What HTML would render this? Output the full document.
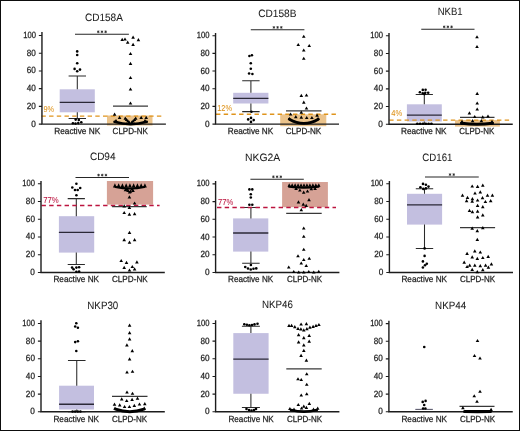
<!DOCTYPE html>
<html><head><meta charset="utf-8"><style>
html,body{margin:0;padding:0;background:#fff;}
svg{display:block;will-change:transform;}
text{stroke:#1e1e1e;stroke-width:0.25px;text-rendering:geometricPrecision;}
text.c{stroke:none;}
</style></head><body>
<svg width="520" height="431" viewBox="0 0 520 431" font-family='"Liberation Sans", sans-serif'>
<rect x="0" y="0" width="520" height="431" fill="#fff"/>
<rect x="107" y="115.5" width="45.5" height="10.0" fill="#ebc38b"/>
<rect x="59.7" y="89.3" width="35.099999999999994" height="23.0" fill="#c3bfe0"/>
<path d="M77.3 75.9V89.3M77.3 112.3V118.4M68.6 75.9H86.0M68.6 118.4H86.0" stroke="#2a2a2a" stroke-width="1.05" fill="none"/>
<path d="M59.7 102.3H94.8" stroke="#2b2937" stroke-width="1.35"/>
<path d="M41.4 116.1H161.8" stroke="#df941c" stroke-width="1.4" stroke-dasharray="4.4 3.3" fill="none"/>
<text x="43.48" y="111.60" font-size="8.6" textLength="10.67" lengthAdjust="spacingAndGlyphs" fill="#df941c" style="stroke:#df941c;stroke-width:0.05px">9%</text>
<path d="M113 106.0H148" stroke="#383838" stroke-width="1.25"/>
<path d="M41.95 32.0V124.15H165.9" stroke="#1c1c1c" stroke-width="1.4" fill="none"/>
<text x="31.30" y="126.65" font-size="9" fill="#1e1e1e" textLength="4.6" lengthAdjust="spacingAndGlyphs">0</text>
<text x="26.80" y="108.91" font-size="9" fill="#1e1e1e" textLength="9.1" lengthAdjust="spacingAndGlyphs">20</text>
<text x="26.80" y="91.17" font-size="9" fill="#1e1e1e" textLength="9.1" lengthAdjust="spacingAndGlyphs">40</text>
<text x="26.80" y="73.43" font-size="9" fill="#1e1e1e" textLength="9.1" lengthAdjust="spacingAndGlyphs">60</text>
<text x="26.80" y="55.69" font-size="9" fill="#1e1e1e" textLength="9.1" lengthAdjust="spacingAndGlyphs">80</text>
<text x="23.20" y="37.95" font-size="9" fill="#1e1e1e" textLength="12.7" lengthAdjust="spacingAndGlyphs">100</text>
<path d="M38.85 124.15H41.95M38.85 106.41H41.95M38.85 88.67H41.95M38.85 70.93H41.95M38.85 53.19H41.95M38.85 35.45H41.95" stroke="#1c1c1c" stroke-width="1.1"/>
<path d="M75 34.2H128.9" stroke="#262626" stroke-width="1.1"/>
<path d="M98.25 30.45V33.15M97.08 31.13L99.42 32.48M97.08 32.48L99.42 31.13M101.95 30.45V33.15M100.78 31.13L103.12 32.48M100.78 32.48L103.12 31.13M105.65 30.45V33.15M104.48 31.13L106.82 32.48M104.48 32.48L106.82 31.13" stroke="#222" stroke-width="0.75" fill="none"/>
<text x="84.93" y="20.90" font-size="10.6" textLength="37.92" lengthAdjust="spacingAndGlyphs" fill="#1a1a1a" style="stroke-width:0.05px">CD158A</text>
<text x="54.21" y="133.90" font-size="8.8" textLength="45.99" lengthAdjust="spacingAndGlyphs" fill="#1e1e1e">Reactive NK</text>
<text x="112.56" y="133.90" font-size="8.8" textLength="35.43" lengthAdjust="spacingAndGlyphs" fill="#1e1e1e">CLPD-NK</text>
<path d="M114.5 121.8Q130.5 126.6 146.8 121.8" stroke="#000" stroke-width="2.6" stroke-linecap="round" fill="none"/>
<g fill="#000"><circle cx="77.20" cy="51.40" r="1.3"/><circle cx="77.20" cy="55.00" r="1.3"/><circle cx="77.20" cy="63.20" r="1.3"/><circle cx="74.60" cy="68.90" r="1.3"/><circle cx="77.20" cy="71.30" r="1.3"/><circle cx="80.00" cy="69.60" r="1.3"/><circle cx="75.70" cy="119.60" r="1.3"/><circle cx="78.80" cy="119.90" r="1.3"/><circle cx="72.90" cy="123.20" r="1.3"/><circle cx="75.50" cy="123.60" r="1.3"/><circle cx="78.30" cy="123.10" r="1.3"/><circle cx="81.30" cy="122.20" r="1.3"/><path d="M120.40 40.90L122.20 37.70L124.00 40.90Z"/><path d="M123.20 40.60L125.00 37.40L126.80 40.60Z"/><path d="M125.90 43.70L127.70 40.50L129.50 43.70Z"/><path d="M131.30 38.70L133.10 35.50L134.90 38.70Z"/><path d="M136.60 41.30L138.40 38.10L140.20 41.30Z"/><path d="M131.30 46.00L133.10 42.80L134.90 46.00Z"/><path d="M128.70 55.10L130.50 51.90L132.30 55.10Z"/><path d="M128.70 65.00L130.50 61.80L132.30 65.00Z"/><path d="M128.70 79.10L130.50 75.90L132.30 79.10Z"/><path d="M128.70 90.60L130.50 87.40L132.30 90.60Z"/><path d="M128.70 104.60L130.50 101.40L132.30 104.60Z"/><path d="M112.80 115.80L114.60 112.60L116.40 115.80Z"/><path d="M117.80 119.00L119.60 115.80L121.40 119.00Z"/><path d="M139.40 119.00L141.20 115.80L143.00 119.00Z"/><path d="M144.40 119.00L146.20 115.80L148.00 119.00Z"/><path d="M123.50 119.80L125.30 116.60L127.10 119.80Z"/><path d="M124.80 121.10L126.60 117.90L128.40 121.10Z"/><path d="M126.10 122.40L127.90 119.20L129.70 122.40Z"/><path d="M127.40 123.60L129.20 120.40L131.00 123.60Z"/><path d="M130.00 123.60L131.80 120.40L133.60 123.60Z"/><path d="M131.30 122.40L133.10 119.20L134.90 122.40Z"/><path d="M132.60 121.10L134.40 117.90L136.20 121.10Z"/><path d="M133.90 119.80L135.70 116.60L137.50 119.80Z"/><path d="M114.20 122.10L116.00 118.90L117.80 122.10Z"/><path d="M143.20 122.10L145.00 118.90L146.80 122.10Z"/></g>
<rect x="280.2" y="114.3" width="46.10000000000002" height="11.900000000000006" fill="#ebc38b"/>
<rect x="233.2" y="92.8" width="35.19999999999999" height="10.700000000000003" fill="#c3bfe0"/>
<path d="M250.9 80.7V92.8M250.9 103.5V111.6M242.20000000000002 80.7H259.6M242.20000000000002 111.6H259.6" stroke="#2a2a2a" stroke-width="1.05" fill="none"/>
<path d="M233.2 98.3H268.4" stroke="#2b2937" stroke-width="1.35"/>
<path d="M216.0 114.3H336.3" stroke="#df941c" stroke-width="1.4" stroke-dasharray="4.4 3.3" fill="none"/>
<text x="217.26" y="110.90" font-size="8.6" textLength="14.81" lengthAdjust="spacingAndGlyphs" fill="#df941c" style="stroke:#df941c;stroke-width:0.05px">12%</text>
<path d="M286 110.9H321.5" stroke="#383838" stroke-width="1.25"/>
<path d="M215.55 33.0V124.1H339.0" stroke="#1c1c1c" stroke-width="1.4" fill="none"/>
<text x="204.90" y="126.60" font-size="9" fill="#1e1e1e" textLength="4.6" lengthAdjust="spacingAndGlyphs">0</text>
<text x="200.40" y="108.92" font-size="9" fill="#1e1e1e" textLength="9.1" lengthAdjust="spacingAndGlyphs">20</text>
<text x="200.40" y="91.24" font-size="9" fill="#1e1e1e" textLength="9.1" lengthAdjust="spacingAndGlyphs">40</text>
<text x="200.40" y="73.56" font-size="9" fill="#1e1e1e" textLength="9.1" lengthAdjust="spacingAndGlyphs">60</text>
<text x="200.40" y="55.88" font-size="9" fill="#1e1e1e" textLength="9.1" lengthAdjust="spacingAndGlyphs">80</text>
<text x="196.80" y="38.20" font-size="9" fill="#1e1e1e" textLength="12.7" lengthAdjust="spacingAndGlyphs">100</text>
<path d="M212.45000000000002 124.10H215.55M212.45000000000002 106.42H215.55M212.45000000000002 88.74H215.55M212.45000000000002 71.06H215.55M212.45000000000002 53.38H215.55M212.45000000000002 35.70H215.55" stroke="#1c1c1c" stroke-width="1.1"/>
<path d="M250.8 29.8H304.4" stroke="#262626" stroke-width="1.1"/>
<path d="M273.90 26.05V28.75M272.73 26.73L275.07 28.08M272.73 28.08L275.07 26.73M277.60 26.05V28.75M276.43 26.73L278.77 28.08M276.43 28.08L278.77 26.73M281.30 26.05V28.75M280.13 26.73L282.47 28.08M280.13 28.08L282.47 26.73" stroke="#222" stroke-width="0.75" fill="none"/>
<text x="258.22" y="16.50" font-size="10.6" textLength="38.20" lengthAdjust="spacingAndGlyphs" fill="#1a1a1a" style="stroke-width:0.05px">CD158B</text>
<text x="227.72" y="133.90" font-size="8.8" textLength="45.48" lengthAdjust="spacingAndGlyphs" fill="#1e1e1e">Reactive NK</text>
<text x="285.65" y="133.90" font-size="8.8" textLength="35.63" lengthAdjust="spacingAndGlyphs" fill="#1e1e1e">CLPD-NK</text>
<path d="M289.3 119.3Q304 127.6 318.3 119.3" stroke="#000" stroke-width="2.8" stroke-linecap="round" fill="none"/>
<g fill="#000"><circle cx="249.40" cy="56.00" r="1.3"/><circle cx="251.90" cy="55.20" r="1.3"/><circle cx="250.80" cy="63.30" r="1.3"/><circle cx="250.80" cy="68.80" r="1.3"/><circle cx="249.10" cy="73.50" r="1.3"/><circle cx="252.40" cy="74.00" r="1.3"/><circle cx="251.40" cy="111.70" r="1.3"/><circle cx="248.20" cy="119.40" r="1.3"/><circle cx="251.00" cy="117.90" r="1.3"/><circle cx="253.70" cy="120.10" r="1.3"/><circle cx="251.00" cy="121.90" r="1.3"/><path d="M301.95 37.85L303.75 34.65L305.55 37.85Z"/><path d="M296.45 46.10L298.25 42.90L300.05 46.10Z"/><path d="M307.45 47.10L309.25 43.90L311.05 47.10Z"/><path d="M301.95 51.60L303.75 48.40L305.55 51.60Z"/><path d="M301.95 59.85L303.75 56.65L305.55 59.85Z"/><path d="M299.50 96.90L301.30 93.70L303.10 96.90Z"/><path d="M304.70 96.60L306.50 93.40L308.30 96.60Z"/><path d="M302.00 103.80L303.80 100.60L305.60 103.80Z"/><path d="M304.70 109.60L306.50 106.40L308.30 109.60Z"/><path d="M299.50 113.70L301.30 110.50L303.10 113.70Z"/><path d="M288.80 115.60L290.60 112.40L292.40 115.60Z"/><path d="M294.00 118.30L295.80 115.10L297.60 118.30Z"/><path d="M299.50 118.80L301.30 115.60L303.10 118.80Z"/><path d="M304.90 119.10L306.70 115.90L308.50 119.10Z"/><path d="M310.10 119.10L311.90 115.90L313.70 119.10Z"/><path d="M315.30 116.80L317.10 113.60L318.90 116.80Z"/><path d="M287.70 120.10L289.50 116.90L291.30 120.10Z"/><path d="M316.20 120.10L318.00 116.90L319.80 120.10Z"/></g>
<rect x="455" y="120.1" width="44.89999999999998" height="6.5" fill="#ebc38b"/>
<rect x="406.9" y="104.3" width="34.900000000000034" height="17.200000000000003" fill="#c3bfe0"/>
<path d="M424.3 94.5V104.3M424.3 121.5V123.9M415.7 94.5H432.90000000000003M415.7 123.9H432.90000000000003" stroke="#2a2a2a" stroke-width="1.05" fill="none"/>
<path d="M406.9 115.1H441.8" stroke="#2b2937" stroke-width="1.35"/>
<path d="M389.2 120.1H510" stroke="#df941c" stroke-width="1.4" stroke-dasharray="4.4 3.3" fill="none"/>
<text x="391.29" y="116.40" font-size="8.6" textLength="10.96" lengthAdjust="spacingAndGlyphs" fill="#df941c" style="stroke:#df941c;stroke-width:0.05px">4%</text>
<path d="M460 117.3H494.5" stroke="#383838" stroke-width="1.25"/>
<path d="M389.0 32.9V124.2H512.75" stroke="#1c1c1c" stroke-width="1.4" fill="none"/>
<text x="378.35" y="126.70" font-size="9" fill="#1e1e1e" textLength="4.6" lengthAdjust="spacingAndGlyphs">0</text>
<text x="373.85" y="109.02" font-size="9" fill="#1e1e1e" textLength="9.1" lengthAdjust="spacingAndGlyphs">20</text>
<text x="373.85" y="91.34" font-size="9" fill="#1e1e1e" textLength="9.1" lengthAdjust="spacingAndGlyphs">40</text>
<text x="373.85" y="73.66" font-size="9" fill="#1e1e1e" textLength="9.1" lengthAdjust="spacingAndGlyphs">60</text>
<text x="373.85" y="55.98" font-size="9" fill="#1e1e1e" textLength="9.1" lengthAdjust="spacingAndGlyphs">80</text>
<text x="370.25" y="38.30" font-size="9" fill="#1e1e1e" textLength="12.7" lengthAdjust="spacingAndGlyphs">100</text>
<path d="M385.9 124.20H389.0M385.9 106.52H389.0M385.9 88.84H389.0M385.9 71.16H389.0M385.9 53.48H389.0M385.9 35.80H389.0" stroke="#1c1c1c" stroke-width="1.1"/>
<path d="M421.25 29.25H474.5" stroke="#262626" stroke-width="1.1"/>
<path d="M444.18 25.50V28.20M443.00 26.18L445.35 27.53M443.00 27.53L445.35 26.18M447.88 25.50V28.20M446.70 26.18L449.05 27.53M446.70 27.53L449.05 26.18M451.57 25.50V28.20M450.40 26.18L452.75 27.53M450.40 27.53L452.75 26.18" stroke="#222" stroke-width="0.75" fill="none"/>
<text x="437.73" y="15.40" font-size="10.6" textLength="24.87" lengthAdjust="spacingAndGlyphs" fill="#1a1a1a" style="stroke-width:0.05px">NKB1</text>
<text x="401.02" y="133.90" font-size="8.8" textLength="45.58" lengthAdjust="spacingAndGlyphs" fill="#1e1e1e">Reactive NK</text>
<text x="459.36" y="133.90" font-size="8.8" textLength="34.93" lengthAdjust="spacingAndGlyphs" fill="#1e1e1e">CLPD-NK</text>
<path d="M461.5 123.3Q477 125.4 492.5 123.3" stroke="#000" stroke-width="3.0" stroke-linecap="round" fill="none"/>
<g fill="#000"><circle cx="422.80" cy="89.90" r="1.3"/><circle cx="425.60" cy="89.80" r="1.3"/><circle cx="419.90" cy="92.20" r="1.3"/><circle cx="422.80" cy="93.20" r="1.3"/><circle cx="425.30" cy="92.70" r="1.3"/><circle cx="428.20" cy="92.70" r="1.3"/><circle cx="424.40" cy="94.10" r="1.3"/><circle cx="417.30" cy="123.70" r="1.3"/><circle cx="420.12" cy="123.70" r="1.3"/><circle cx="422.94" cy="123.70" r="1.3"/><circle cx="425.76" cy="123.70" r="1.3"/><circle cx="428.58" cy="123.70" r="1.3"/><circle cx="431.40" cy="123.70" r="1.3"/><path d="M475.20 38.35L477.00 35.15L478.80 38.35Z"/><path d="M475.20 48.10L477.00 44.90L478.80 48.10Z"/><path d="M475.40 94.90L477.20 91.70L479.00 94.90Z"/><path d="M475.40 104.60L477.20 101.40L479.00 104.60Z"/><path d="M475.40 110.60L477.20 107.40L479.00 110.60Z"/><path d="M467.60 114.40L469.40 111.20L471.20 114.40Z"/><path d="M472.90 118.10L474.70 114.90L476.50 118.10Z"/><path d="M480.90 118.40L482.70 115.20L484.50 118.40Z"/><path d="M486.20 117.60L488.00 114.40L489.80 117.60Z"/><path d="M470.80 122.20L472.60 119.00L474.40 122.20Z"/><path d="M479.60 122.20L481.40 119.00L483.20 122.20Z"/><path d="M460.20 122.90L462.00 119.70L463.80 122.90Z"/><path d="M490.20 122.90L492.00 119.70L493.80 122.90Z"/></g>
<rect x="106.9" y="181" width="46.19999999999999" height="23.599999999999994" fill="#d6a296"/>
<rect x="58.9" y="216.2" width="35.300000000000004" height="36.400000000000006" fill="#c3bfe0"/>
<path d="M76.3 198.6V216.2M76.3 252.6V264.5M67.7 198.6H84.89999999999999M67.7 264.5H84.89999999999999" stroke="#2a2a2a" stroke-width="1.05" fill="none"/>
<path d="M58.9 232.3H94.2" stroke="#2b2937" stroke-width="1.35"/>
<path d="M41.5 205.45H159.6" stroke="#bc143f" stroke-width="1.4" stroke-dasharray="4.4 3.3" fill="none"/>
<text x="43.16" y="202.50" font-size="8.6" textLength="15.52" lengthAdjust="spacingAndGlyphs" fill="#bc143f" style="stroke:#bc143f;stroke-width:0.05px">77%</text>
<path d="M112.1 206.5H146.7" stroke="#383838" stroke-width="1.25"/>
<path d="M41.0 180.9V272.45H164.8" stroke="#1c1c1c" stroke-width="1.4" fill="none"/>
<text x="30.35" y="274.95" font-size="9" fill="#1e1e1e" textLength="4.6" lengthAdjust="spacingAndGlyphs">0</text>
<text x="25.85" y="257.22" font-size="9" fill="#1e1e1e" textLength="9.1" lengthAdjust="spacingAndGlyphs">20</text>
<text x="25.85" y="239.49" font-size="9" fill="#1e1e1e" textLength="9.1" lengthAdjust="spacingAndGlyphs">40</text>
<text x="25.85" y="221.76" font-size="9" fill="#1e1e1e" textLength="9.1" lengthAdjust="spacingAndGlyphs">60</text>
<text x="25.85" y="204.03" font-size="9" fill="#1e1e1e" textLength="9.1" lengthAdjust="spacingAndGlyphs">80</text>
<text x="22.25" y="186.30" font-size="9" fill="#1e1e1e" textLength="12.7" lengthAdjust="spacingAndGlyphs">100</text>
<path d="M37.9 272.45H41.0M37.9 254.72H41.0M37.9 236.99H41.0M37.9 219.26H41.0M37.9 201.53H41.0M37.9 183.80H41.0" stroke="#1c1c1c" stroke-width="1.1"/>
<path d="M75.5 177.5H129" stroke="#262626" stroke-width="1.1"/>
<path d="M98.55 173.75V176.45M97.38 174.42L99.72 175.78M97.38 175.78L99.72 174.42M102.25 173.75V176.45M101.08 174.42L103.42 175.78M101.08 175.78L103.42 174.42M105.95 173.75V176.45M104.78 174.42L107.12 175.78M104.78 175.78L107.12 174.42" stroke="#222" stroke-width="0.75" fill="none"/>
<text x="89.93" y="160.20" font-size="10.6" textLength="25.58" lengthAdjust="spacingAndGlyphs" fill="#1a1a1a" style="stroke-width:0.05px">CD94</text>
<text x="53.42" y="282.20" font-size="8.8" textLength="45.68" lengthAdjust="spacingAndGlyphs" fill="#1e1e1e">Reactive NK</text>
<text x="111.95" y="282.20" font-size="8.8" textLength="35.83" lengthAdjust="spacingAndGlyphs" fill="#1e1e1e">CLPD-NK</text>
<path d="M115.4 187.0Q129.8 190.0 144.4 187.0" stroke="#000" stroke-width="2.0" stroke-linecap="round" fill="none"/>
<g fill="#000"><circle cx="76.40" cy="183.80" r="1.3"/><circle cx="72.30" cy="187.50" r="1.3"/><circle cx="80.20" cy="188.00" r="1.3"/><circle cx="75.00" cy="190.00" r="1.3"/><circle cx="77.70" cy="190.00" r="1.3"/><circle cx="76.40" cy="195.30" r="1.3"/><circle cx="72.10" cy="267.60" r="1.3"/><circle cx="73.60" cy="269.20" r="1.3"/><circle cx="76.40" cy="267.60" r="1.3"/><circle cx="79.10" cy="267.30" r="1.3"/><circle cx="76.40" cy="271.80" r="1.3"/><circle cx="79.10" cy="271.60" r="1.3"/><path d="M112.95 187.40L114.90 183.20L116.85 187.40Z"/><path d="M116.70 187.40L118.65 183.20L120.60 187.40Z"/><path d="M120.45 187.40L122.40 183.20L124.35 187.40Z"/><path d="M124.20 187.40L126.15 183.20L128.10 187.40Z"/><path d="M127.95 187.40L129.90 183.20L131.85 187.40Z"/><path d="M131.70 187.40L133.65 183.20L135.60 187.40Z"/><path d="M135.45 187.40L137.40 183.20L139.35 187.40Z"/><path d="M139.20 187.40L141.15 183.20L143.10 187.40Z"/><path d="M142.95 187.40L144.90 183.20L146.85 187.40Z"/><path d="M123.70 191.20L125.50 188.00L127.30 191.20Z"/><path d="M126.20 192.00L128.00 188.80L129.80 192.00Z"/><path d="M128.70 192.80L130.50 189.60L132.30 192.80Z"/><path d="M131.20 192.00L133.00 188.80L134.80 192.00Z"/><path d="M125.20 190.60L127.00 187.40L128.80 190.60Z"/><path d="M130.20 190.60L132.00 187.40L133.80 190.60Z"/><path d="M127.80 193.60L129.60 190.40L131.40 193.60Z"/><path d="M127.60 198.50L129.40 195.30L131.20 198.50Z"/><path d="M132.80 204.60L134.60 201.40L136.40 204.60Z"/><path d="M122.40 207.50L124.20 204.30L126.00 207.50Z"/><path d="M127.60 208.90L129.40 205.70L131.20 208.90Z"/><path d="M122.40 214.10L124.20 210.90L126.00 214.10Z"/><path d="M127.60 215.80L129.40 212.60L131.20 215.80Z"/><path d="M132.80 215.30L134.60 212.10L136.40 215.30Z"/><path d="M127.70 233.90L129.50 230.70L131.30 233.90Z"/><path d="M122.40 241.30L124.20 238.10L126.00 241.30Z"/><path d="M127.70 243.80L129.50 240.60L131.30 243.80Z"/><path d="M132.80 241.30L134.60 238.10L136.40 241.30Z"/><path d="M119.40 262.10L121.20 258.90L123.00 262.10Z"/><path d="M124.70 263.90L126.50 260.70L128.30 263.90Z"/><path d="M135.10 263.40L136.90 260.20L138.70 263.40Z"/><path d="M122.40 269.00L124.20 265.80L126.00 269.00Z"/><path d="M130.50 268.10L132.30 264.90L134.10 268.10Z"/><path d="M132.80 270.40L134.60 267.20L136.40 270.40Z"/><path d="M127.70 271.60L129.50 268.40L131.30 271.60Z"/></g>
<rect x="282.1" y="182" width="45.799999999999955" height="25.19999999999999" fill="#d6a296"/>
<rect x="233.1" y="218.4" width="35.20000000000002" height="33.19999999999999" fill="#c3bfe0"/>
<path d="M250.9 207.4V218.4M250.9 251.6V263.3M242.15 207.4H259.65M242.15 263.3H259.65" stroke="#2a2a2a" stroke-width="1.05" fill="none"/>
<path d="M233.1 233.0H268.3" stroke="#2b2937" stroke-width="1.35"/>
<path d="M217.0 207.5H336" stroke="#bc143f" stroke-width="1.4" stroke-dasharray="4.4 3.3" fill="none"/>
<text x="217.97" y="204.60" font-size="8.6" textLength="15.31" lengthAdjust="spacingAndGlyphs" fill="#bc143f" style="stroke:#bc143f;stroke-width:0.05px">77%</text>
<path d="M286.2 213.4H321.7" stroke="#383838" stroke-width="1.25"/>
<path d="M215.6 181.1V272.45H339.4" stroke="#1c1c1c" stroke-width="1.4" fill="none"/>
<text x="204.95" y="274.95" font-size="9" fill="#1e1e1e" textLength="4.6" lengthAdjust="spacingAndGlyphs">0</text>
<text x="200.45" y="257.24" font-size="9" fill="#1e1e1e" textLength="9.1" lengthAdjust="spacingAndGlyphs">20</text>
<text x="200.45" y="239.53" font-size="9" fill="#1e1e1e" textLength="9.1" lengthAdjust="spacingAndGlyphs">40</text>
<text x="200.45" y="221.82" font-size="9" fill="#1e1e1e" textLength="9.1" lengthAdjust="spacingAndGlyphs">60</text>
<text x="200.45" y="204.11" font-size="9" fill="#1e1e1e" textLength="9.1" lengthAdjust="spacingAndGlyphs">80</text>
<text x="196.85" y="186.40" font-size="9" fill="#1e1e1e" textLength="12.7" lengthAdjust="spacingAndGlyphs">100</text>
<path d="M212.5 272.45H215.6M212.5 254.74H215.6M212.5 237.03H215.6M212.5 219.32H215.6M212.5 201.61H215.6M212.5 183.90H215.6" stroke="#1c1c1c" stroke-width="1.1"/>
<path d="M250.4 179.2H303.8" stroke="#262626" stroke-width="1.1"/>
<path d="M273.40 175.45V178.15M272.23 176.12L274.57 177.47M272.23 177.47L274.57 176.12M277.10 175.45V178.15M275.93 176.12L278.27 177.47M275.93 177.47L278.27 176.12M280.80 175.45V178.15M279.63 176.12L281.97 177.47M279.63 177.47L281.97 176.12" stroke="#222" stroke-width="0.75" fill="none"/>
<text x="245.07" y="161.30" font-size="10.6" textLength="35.18" lengthAdjust="spacingAndGlyphs" fill="#1a1a1a" style="stroke-width:0.05px">NKG2A</text>
<text x="228.02" y="282.20" font-size="8.8" textLength="45.18" lengthAdjust="spacingAndGlyphs" fill="#1e1e1e">Reactive NK</text>
<text x="286.96" y="282.20" font-size="8.8" textLength="35.23" lengthAdjust="spacingAndGlyphs" fill="#1e1e1e">CLPD-NK</text>
<path d="M289.0 186.6Q303.8 188.6 318.6 186.6" stroke="#000" stroke-width="2.2" stroke-linecap="round" fill="none"/>
<g fill="#000"><circle cx="249.40" cy="189.40" r="1.3"/><circle cx="252.30" cy="189.40" r="1.3"/><circle cx="250.80" cy="194.20" r="1.3"/><circle cx="250.80" cy="197.50" r="1.3"/><circle cx="249.40" cy="204.80" r="1.3"/><circle cx="252.30" cy="204.80" r="1.3"/><circle cx="250.90" cy="265.00" r="1.3"/><circle cx="245.25" cy="267.00" r="1.3"/><circle cx="248.00" cy="268.50" r="1.3"/><circle cx="250.75" cy="269.50" r="1.3"/><circle cx="253.50" cy="268.75" r="1.3"/><circle cx="256.25" cy="268.40" r="1.3"/><path d="M287.50 186.70L289.20 183.30L290.90 186.70Z"/><path d="M290.46 186.70L292.16 183.30L293.86 186.70Z"/><path d="M293.42 186.70L295.12 183.30L296.82 186.70Z"/><path d="M296.38 186.70L298.08 183.30L299.78 186.70Z"/><path d="M299.34 186.70L301.04 183.30L302.74 186.70Z"/><path d="M302.30 186.70L304.00 183.30L305.70 186.70Z"/><path d="M305.26 186.70L306.96 183.30L308.66 186.70Z"/><path d="M308.22 186.70L309.92 183.30L311.62 186.70Z"/><path d="M311.18 186.70L312.88 183.30L314.58 186.70Z"/><path d="M314.14 186.70L315.84 183.30L317.54 186.70Z"/><path d="M317.10 186.70L318.80 183.30L320.50 186.70Z"/><path d="M294.30 189.90L296.10 186.70L297.90 189.90Z"/><path d="M298.10 191.60L299.90 188.40L301.70 191.60Z"/><path d="M301.90 193.70L303.70 190.50L305.50 193.70Z"/><path d="M305.70 192.60L307.50 189.40L309.30 192.60Z"/><path d="M309.50 190.30L311.30 187.10L313.10 190.30Z"/><path d="M313.30 189.90L315.10 186.70L316.90 189.90Z"/><path d="M296.70 203.50L298.50 200.30L300.30 203.50Z"/><path d="M307.20 201.20L309.00 198.00L310.80 201.20Z"/><path d="M301.50 205.80L303.30 202.60L305.10 205.80Z"/><path d="M304.40 207.00L306.20 203.80L308.00 207.00Z"/><path d="M299.50 211.20L301.30 208.00L303.10 211.20Z"/><path d="M301.95 229.60L303.75 226.40L305.55 229.60Z"/><path d="M301.95 237.85L303.75 234.65L305.55 237.85Z"/><path d="M301.95 250.85L303.75 247.65L305.55 250.85Z"/><path d="M296.20 257.35L298.00 254.15L299.80 257.35Z"/><path d="M307.45 259.85L309.25 256.65L311.05 259.85Z"/><path d="M301.95 261.10L303.75 257.90L305.55 261.10Z"/><path d="M299.45 264.60L301.25 261.40L303.05 264.60Z"/><path d="M304.45 267.10L306.25 263.90L308.05 267.10Z"/><path d="M286.95 268.60L288.75 265.40L290.55 268.60Z"/><path d="M291.95 273.10L293.75 269.90L295.55 273.10Z"/><path d="M296.95 273.60L298.75 270.40L300.55 273.60Z"/><path d="M301.95 273.60L303.75 270.40L305.55 273.60Z"/><path d="M306.95 273.10L308.75 269.90L310.55 273.10Z"/><path d="M311.95 273.60L313.75 270.40L315.55 273.60Z"/><path d="M316.95 272.90L318.75 269.70L320.55 272.90Z"/></g>
<rect x="407" y="193.8" width="35.10000000000002" height="30.799999999999983" fill="#c3bfe0"/>
<path d="M424.5 188.75V193.8M424.5 224.6V248.4M415.8 188.75H433.2M415.8 248.4H433.2" stroke="#2a2a2a" stroke-width="1.05" fill="none"/>
<path d="M407 204.8H442.1" stroke="#2b2937" stroke-width="1.35"/>
<path d="M460 227.5H495.1" stroke="#383838" stroke-width="1.25"/>
<path d="M389.4 181.0V272.45H513.0" stroke="#1c1c1c" stroke-width="1.4" fill="none"/>
<text x="378.75" y="274.95" font-size="9" fill="#1e1e1e" textLength="4.6" lengthAdjust="spacingAndGlyphs">0</text>
<text x="374.25" y="257.20" font-size="9" fill="#1e1e1e" textLength="9.1" lengthAdjust="spacingAndGlyphs">20</text>
<text x="374.25" y="239.45" font-size="9" fill="#1e1e1e" textLength="9.1" lengthAdjust="spacingAndGlyphs">40</text>
<text x="374.25" y="221.70" font-size="9" fill="#1e1e1e" textLength="9.1" lengthAdjust="spacingAndGlyphs">60</text>
<text x="374.25" y="203.95" font-size="9" fill="#1e1e1e" textLength="9.1" lengthAdjust="spacingAndGlyphs">80</text>
<text x="370.65" y="186.20" font-size="9" fill="#1e1e1e" textLength="12.7" lengthAdjust="spacingAndGlyphs">100</text>
<path d="M386.29999999999995 272.45H389.4M386.29999999999995 254.70H389.4M386.29999999999995 236.95H389.4M386.29999999999995 219.20H389.4M386.29999999999995 201.45H389.4M386.29999999999995 183.70H389.4" stroke="#1c1c1c" stroke-width="1.1"/>
<path d="M425 177H478.75" stroke="#262626" stroke-width="1.1"/>
<path d="M450.02 173.25V175.95M448.85 173.92L451.20 175.28M448.85 175.28L451.20 173.92M453.73 173.25V175.95M452.55 173.92L454.90 175.28M452.55 175.28L454.90 173.92" stroke="#222" stroke-width="0.75" fill="none"/>
<text x="422.34" y="161.20" font-size="10.6" textLength="30.10" lengthAdjust="spacingAndGlyphs" fill="#1a1a1a" style="stroke-width:0.05px">CD161</text>
<text x="401.42" y="282.20" font-size="8.8" textLength="45.68" lengthAdjust="spacingAndGlyphs" fill="#1e1e1e">Reactive NK</text>
<text x="459.96" y="282.20" font-size="8.8" textLength="35.23" lengthAdjust="spacingAndGlyphs" fill="#1e1e1e">CLPD-NK</text>
<g fill="#000"><circle cx="423.00" cy="183.90" r="1.3"/><circle cx="425.90" cy="184.70" r="1.3"/><circle cx="420.40" cy="187.20" r="1.3"/><circle cx="428.50" cy="186.60" r="1.3"/><circle cx="423.30" cy="188.90" r="1.3"/><circle cx="425.90" cy="188.40" r="1.3"/><circle cx="424.60" cy="248.40" r="1.3"/><circle cx="424.60" cy="255.90" r="1.3"/><circle cx="422.90" cy="261.40" r="1.3"/><circle cx="426.80" cy="263.80" r="1.3"/><circle cx="425.00" cy="265.30" r="1.3"/><circle cx="422.90" cy="267.50" r="1.3"/><path d="M470.40 187.60L472.20 184.40L474.00 187.60Z"/><path d="M475.80 188.00L477.60 184.80L479.40 188.00Z"/><path d="M481.00 186.80L482.80 183.60L484.60 186.80Z"/><path d="M473.20 194.60L475.00 191.40L476.80 194.60Z"/><path d="M478.50 193.40L480.30 190.20L482.10 193.40Z"/><path d="M460.70 196.70L462.50 193.50L464.30 196.70Z"/><path d="M465.70 199.00L467.50 195.80L469.30 199.00Z"/><path d="M470.60 200.20L472.40 197.00L474.20 200.20Z"/><path d="M475.80 201.60L477.60 198.40L479.40 201.60Z"/><path d="M480.70 199.20L482.50 196.00L484.30 199.20Z"/><path d="M485.70 196.70L487.50 193.50L489.30 196.70Z"/><path d="M490.60 196.70L492.40 193.50L494.20 196.70Z"/><path d="M464.80 202.20L466.60 199.00L468.40 202.20Z"/><path d="M470.40 202.70L472.20 199.50L474.00 202.70Z"/><path d="M483.60 203.10L485.40 199.90L487.20 203.10Z"/><path d="M488.90 202.20L490.70 199.00L492.50 202.20Z"/><path d="M475.80 206.90L477.60 203.70L479.40 206.90Z"/><path d="M481.00 208.30L482.80 205.10L484.60 208.30Z"/><path d="M467.70 212.00L469.50 208.80L471.30 212.00Z"/><path d="M470.60 213.20L472.40 210.00L474.20 213.20Z"/><path d="M475.80 212.70L477.60 209.50L479.40 212.70Z"/><path d="M475.80 218.50L477.60 215.30L479.40 218.50Z"/><path d="M481.00 216.40L482.80 213.20L484.60 216.40Z"/><path d="M470.40 229.80L472.20 226.60L474.00 229.80Z"/><path d="M481.00 229.20L482.80 226.00L484.60 229.20Z"/><path d="M475.50 232.30L477.30 229.10L479.10 232.30Z"/><path d="M475.50 240.90L477.30 237.70L479.10 240.90Z"/><path d="M465.30 254.90L467.10 251.70L468.90 254.90Z"/><path d="M473.00 252.50L474.80 249.30L476.60 252.50Z"/><path d="M478.50 253.60L480.30 250.40L482.10 253.60Z"/><path d="M470.40 258.50L472.20 255.30L474.00 258.50Z"/><path d="M475.50 260.00L477.30 256.80L479.10 260.00Z"/><path d="M481.00 259.10L482.80 255.90L484.60 259.10Z"/><path d="M486.40 257.90L488.20 254.70L490.00 257.90Z"/><path d="M462.40 263.80L464.20 260.60L466.00 263.80Z"/><path d="M465.30 268.10L467.10 264.90L468.90 268.10Z"/><path d="M467.90 266.80L469.70 263.60L471.50 266.80Z"/><path d="M473.00 266.80L474.80 263.60L476.60 266.80Z"/><path d="M478.50 267.20L480.30 264.00L482.10 267.20Z"/><path d="M483.80 266.80L485.60 263.60L487.40 266.80Z"/><path d="M486.60 268.70L488.40 265.50L490.20 268.70Z"/><path d="M489.60 265.50L491.40 262.30L493.20 265.50Z"/><path d="M470.40 271.00L472.20 267.80L474.00 271.00Z"/><path d="M475.50 273.20L477.30 270.00L479.10 273.20Z"/><path d="M481.00 271.20L482.80 268.00L484.60 271.20Z"/></g>
<rect x="59.1" y="385.7" width="34.9" height="23.80000000000001" fill="#c3bfe0"/>
<path d="M76.75 360.5V385.7M76.75 409.5V411.8M67.95 360.5H85.55M67.95 411.8H85.55" stroke="#2a2a2a" stroke-width="1.05" fill="none"/>
<path d="M59.1 404.2H94.0" stroke="#2b2937" stroke-width="1.35"/>
<path d="M112 396.25H147.5" stroke="#383838" stroke-width="1.25"/>
<path d="M41.0 320.2V411.8H164.8" stroke="#1c1c1c" stroke-width="1.4" fill="none"/>
<text x="30.35" y="414.30" font-size="9" fill="#1e1e1e" textLength="4.6" lengthAdjust="spacingAndGlyphs">0</text>
<text x="25.85" y="396.63" font-size="9" fill="#1e1e1e" textLength="9.1" lengthAdjust="spacingAndGlyphs">20</text>
<text x="25.85" y="378.96" font-size="9" fill="#1e1e1e" textLength="9.1" lengthAdjust="spacingAndGlyphs">40</text>
<text x="25.85" y="361.29" font-size="9" fill="#1e1e1e" textLength="9.1" lengthAdjust="spacingAndGlyphs">60</text>
<text x="25.85" y="343.62" font-size="9" fill="#1e1e1e" textLength="9.1" lengthAdjust="spacingAndGlyphs">80</text>
<text x="22.25" y="325.95" font-size="9" fill="#1e1e1e" textLength="12.7" lengthAdjust="spacingAndGlyphs">100</text>
<path d="M37.9 411.80H41.0M37.9 394.13H41.0M37.9 376.46H41.0M37.9 358.79H41.0M37.9 341.12H41.0M37.9 323.45H41.0" stroke="#1c1c1c" stroke-width="1.1"/>
<text x="87.31" y="308.60" font-size="10.6" textLength="31.00" lengthAdjust="spacingAndGlyphs" fill="#1a1a1a" style="stroke-width:0.05px">NKP30</text>
<text x="53.42" y="421.80" font-size="8.8" textLength="45.68" lengthAdjust="spacingAndGlyphs" fill="#1e1e1e">Reactive NK</text>
<text x="111.96" y="421.80" font-size="8.8" textLength="35.23" lengthAdjust="spacingAndGlyphs" fill="#1e1e1e">CLPD-NK</text>
<path d="M115.6 409.2Q129.8 414.2 144.0 409.2" stroke="#000" stroke-width="2.9" stroke-linecap="round" fill="none"/>
<g fill="#000"><circle cx="76.30" cy="323.30" r="1.3"/><circle cx="75.20" cy="326.50" r="1.3"/><circle cx="77.90" cy="327.80" r="1.3"/><circle cx="75.20" cy="342.10" r="1.3"/><circle cx="77.90" cy="341.30" r="1.3"/><circle cx="76.30" cy="351.00" r="1.3"/><circle cx="72.60" cy="411.50" r="1.3"/><circle cx="75.20" cy="411.50" r="1.3"/><circle cx="77.80" cy="411.50" r="1.3"/><circle cx="80.40" cy="411.50" r="1.3"/><path d="M127.80 326.80L129.60 323.60L131.40 326.80Z"/><path d="M127.80 334.30L129.60 331.10L131.40 334.30Z"/><path d="M127.80 340.50L129.60 337.30L131.40 340.50Z"/><path d="M125.10 346.40L126.90 343.20L128.70 346.40Z"/><path d="M130.50 352.30L132.30 349.10L134.10 352.30Z"/><path d="M127.80 360.40L129.60 357.20L131.40 360.40Z"/><path d="M125.20 373.60L127.00 370.40L128.80 373.60Z"/><path d="M130.70 372.85L132.50 369.65L134.30 372.85Z"/><path d="M125.20 393.60L127.00 390.40L128.80 393.60Z"/><path d="M130.70 394.85L132.50 391.65L134.30 394.85Z"/><path d="M119.90 400.50L121.70 397.30L123.50 400.50Z"/><path d="M124.90 402.10L126.70 398.90L128.50 402.10Z"/><path d="M130.30 400.90L132.10 397.70L133.90 400.90Z"/><path d="M135.70 399.70L137.50 396.50L139.30 399.70Z"/><path d="M112.70 405.70L114.50 402.50L116.30 405.70Z"/><path d="M117.90 406.50L119.70 403.30L121.50 406.50Z"/><path d="M122.80 408.10L124.60 404.90L126.40 408.10Z"/><path d="M127.60 408.10L129.40 404.90L131.20 408.10Z"/><path d="M132.50 406.90L134.30 403.70L136.10 406.90Z"/><path d="M137.70 405.60L139.50 402.40L141.30 405.60Z"/><path d="M143.00 405.30L144.80 402.10L146.60 405.30Z"/><path d="M113.20 409.80L115.00 406.60L116.80 409.80Z"/><path d="M142.50 409.80L144.30 406.60L146.10 409.80Z"/></g>
<rect x="233.3" y="333.1" width="35.30000000000001" height="60.64999999999998" fill="#c3bfe0"/>
<path d="M250.9 326.2V333.1M250.9 393.75V407.5M241.9 326.2H259.9M241.9 407.5H259.9" stroke="#2a2a2a" stroke-width="1.05" fill="none"/>
<path d="M233.3 359.1H268.6" stroke="#2b2937" stroke-width="1.35"/>
<path d="M286.3 368.8H321.7" stroke="#383838" stroke-width="1.25"/>
<path d="M215.6 320.2V411.8H339.4" stroke="#1c1c1c" stroke-width="1.4" fill="none"/>
<text x="204.95" y="414.30" font-size="9" fill="#1e1e1e" textLength="4.6" lengthAdjust="spacingAndGlyphs">0</text>
<text x="200.45" y="396.63" font-size="9" fill="#1e1e1e" textLength="9.1" lengthAdjust="spacingAndGlyphs">20</text>
<text x="200.45" y="378.96" font-size="9" fill="#1e1e1e" textLength="9.1" lengthAdjust="spacingAndGlyphs">40</text>
<text x="200.45" y="361.29" font-size="9" fill="#1e1e1e" textLength="9.1" lengthAdjust="spacingAndGlyphs">60</text>
<text x="200.45" y="343.62" font-size="9" fill="#1e1e1e" textLength="9.1" lengthAdjust="spacingAndGlyphs">80</text>
<text x="196.85" y="325.95" font-size="9" fill="#1e1e1e" textLength="12.7" lengthAdjust="spacingAndGlyphs">100</text>
<path d="M212.5 411.80H215.6M212.5 394.13H215.6M212.5 376.46H215.6M212.5 358.79H215.6M212.5 341.12H215.6M212.5 323.45H215.6" stroke="#1c1c1c" stroke-width="1.1"/>
<text x="261.91" y="308.30" font-size="10.6" textLength="30.91" lengthAdjust="spacingAndGlyphs" fill="#1a1a1a" style="stroke-width:0.05px">NKP46</text>
<text x="228.42" y="421.80" font-size="8.8" textLength="45.38" lengthAdjust="spacingAndGlyphs" fill="#1e1e1e">Reactive NK</text>
<text x="286.96" y="421.80" font-size="8.8" textLength="35.23" lengthAdjust="spacingAndGlyphs" fill="#1e1e1e">CLPD-NK</text>
<path d="M291.0 410.0Q303.8 413.2 316.8 410.0" stroke="#000" stroke-width="2.6" stroke-linecap="round" fill="none"/>
<g fill="#000"><circle cx="244.30" cy="324.20" r="1.3"/><circle cx="246.90" cy="324.70" r="1.3"/><circle cx="249.40" cy="325.20" r="1.3"/><circle cx="252.00" cy="325.00" r="1.3"/><circle cx="254.50" cy="324.40" r="1.3"/><circle cx="257.50" cy="323.70" r="1.3"/><circle cx="246.50" cy="409.00" r="1.3"/><circle cx="249.00" cy="410.00" r="1.3"/><circle cx="251.50" cy="410.50" r="1.3"/><circle cx="254.00" cy="410.00" r="1.3"/><circle cx="256.00" cy="409.00" r="1.3"/><path d="M287.20 327.00L289.00 323.80L290.80 327.00Z"/><path d="M289.80 327.00L291.60 323.80L293.40 327.00Z"/><path d="M293.00 328.20L294.80 325.00L296.60 328.20Z"/><path d="M296.20 329.90L298.00 326.70L299.80 329.90Z"/><path d="M299.10 330.50L300.90 327.30L302.70 330.50Z"/><path d="M302.00 331.40L303.80 328.20L305.60 331.40Z"/><path d="M305.10 330.30L306.90 327.10L308.70 330.30Z"/><path d="M308.10 328.80L309.90 325.60L311.70 328.80Z"/><path d="M311.30 328.00L313.10 324.80L314.90 328.00Z"/><path d="M314.20 327.00L316.00 323.80L317.80 327.00Z"/><path d="M317.10 326.10L318.90 322.90L320.70 326.10Z"/><path d="M299.30 325.60L301.10 322.40L302.90 325.60Z"/><path d="M304.60 325.30L306.40 322.10L308.20 325.30Z"/><path d="M296.80 336.30L298.60 333.10L300.40 336.30Z"/><path d="M307.40 336.90L309.20 333.70L311.00 336.90Z"/><path d="M302.00 339.20L303.80 336.00L305.60 339.20Z"/><path d="M296.80 343.50L298.60 340.30L300.40 343.50Z"/><path d="M307.40 342.70L309.20 339.50L311.00 342.70Z"/><path d="M302.00 346.50L303.80 343.30L305.60 346.50Z"/><path d="M302.00 352.00L303.80 348.80L305.60 352.00Z"/><path d="M299.30 357.00L301.10 353.80L302.90 357.00Z"/><path d="M304.60 361.80L306.40 358.60L308.20 361.80Z"/><path d="M304.95 375.35L306.75 372.15L308.55 375.35Z"/><path d="M296.20 380.35L298.00 377.15L299.80 380.35Z"/><path d="M299.45 381.10L301.25 377.90L303.05 381.10Z"/><path d="M304.95 385.85L306.75 382.65L308.55 385.85Z"/><path d="M299.45 396.60L301.25 393.40L303.05 396.60Z"/><path d="M304.95 395.35L306.75 392.15L308.55 395.35Z"/><path d="M296.50 406.10L298.30 402.90L300.10 406.10Z"/><path d="M307.50 404.90L309.30 401.70L311.10 404.90Z"/><path d="M302.00 407.70L303.80 404.50L305.60 407.70Z"/><path d="M299.80 409.60L301.60 406.40L303.40 409.60Z"/><path d="M304.60 408.90L306.40 405.70L308.20 408.90Z"/><path d="M288.10 410.10L289.90 406.90L291.70 410.10Z"/><path d="M315.90 409.70L317.70 406.50L319.50 409.70Z"/><path d="M292.20 410.80L294.00 407.60L295.80 410.80Z"/><path d="M311.70 410.80L313.50 407.60L315.30 410.80Z"/></g>
<rect x="415.4" y="408.9" width="17.400000000000034" height="1.1000000000000227" fill="#c3bfe0"/>
<path d="M415.4 409.4H432.8" stroke="#5a5a66" stroke-width="1.0"/>
<path d="M459.5 406.25H494.5" stroke="#383838" stroke-width="1.25"/>
<path d="M388.9 320.7V411.8H512.75" stroke="#1c1c1c" stroke-width="1.4" fill="none"/>
<text x="378.25" y="414.30" font-size="9" fill="#1e1e1e" textLength="4.6" lengthAdjust="spacingAndGlyphs">0</text>
<text x="373.75" y="396.66" font-size="9" fill="#1e1e1e" textLength="9.1" lengthAdjust="spacingAndGlyphs">20</text>
<text x="373.75" y="379.02" font-size="9" fill="#1e1e1e" textLength="9.1" lengthAdjust="spacingAndGlyphs">40</text>
<text x="373.75" y="361.38" font-size="9" fill="#1e1e1e" textLength="9.1" lengthAdjust="spacingAndGlyphs">60</text>
<text x="373.75" y="343.74" font-size="9" fill="#1e1e1e" textLength="9.1" lengthAdjust="spacingAndGlyphs">80</text>
<text x="370.15" y="326.10" font-size="9" fill="#1e1e1e" textLength="12.7" lengthAdjust="spacingAndGlyphs">100</text>
<path d="M385.79999999999995 411.80H388.9M385.79999999999995 394.16H388.9M385.79999999999995 376.52H388.9M385.79999999999995 358.88H388.9M385.79999999999995 341.24H388.9M385.79999999999995 323.60H388.9" stroke="#1c1c1c" stroke-width="1.1"/>
<text x="435.11" y="308.90" font-size="10.6" textLength="31.08" lengthAdjust="spacingAndGlyphs" fill="#1a1a1a" style="stroke-width:0.05px">NKP44</text>
<text x="401.42" y="421.80" font-size="8.8" textLength="45.68" lengthAdjust="spacingAndGlyphs" fill="#1e1e1e">Reactive NK</text>
<text x="459.96" y="421.80" font-size="8.8" textLength="35.23" lengthAdjust="spacingAndGlyphs" fill="#1e1e1e">CLPD-NK</text>
<path d="M464.6 411.5Q477.5 411.7 490.4 411.5" stroke="#000" stroke-width="3.2" stroke-linecap="round" fill="none"/>
<g fill="#000"><circle cx="424.25" cy="347.00" r="1.3"/><circle cx="422.70" cy="401.90" r="1.3"/><circle cx="425.60" cy="400.90" r="1.3"/><circle cx="424.20" cy="405.00" r="1.3"/><circle cx="423.10" cy="408.50" r="1.3"/><circle cx="425.40" cy="408.50" r="1.3"/><path d="M475.70 342.10L477.50 338.90L479.30 342.10Z"/><path d="M472.70 357.10L474.50 353.90L476.30 357.10Z"/><path d="M478.20 359.60L480.00 356.40L481.80 359.60Z"/><path d="M478.20 392.85L480.00 389.65L481.80 392.85Z"/><path d="M472.45 397.35L474.25 394.15L476.05 397.35Z"/><path d="M475.20 402.85L477.00 399.65L478.80 402.85Z"/><path d="M461.10 409.20L462.90 406.00L464.70 409.20Z"/><path d="M489.30 411.00L491.10 407.80L492.90 411.00Z"/></g>
<rect x="0.5" y="0.5" width="519" height="430" fill="none" stroke="#0d0d0d" stroke-width="1"/>
</svg>
</body></html>
